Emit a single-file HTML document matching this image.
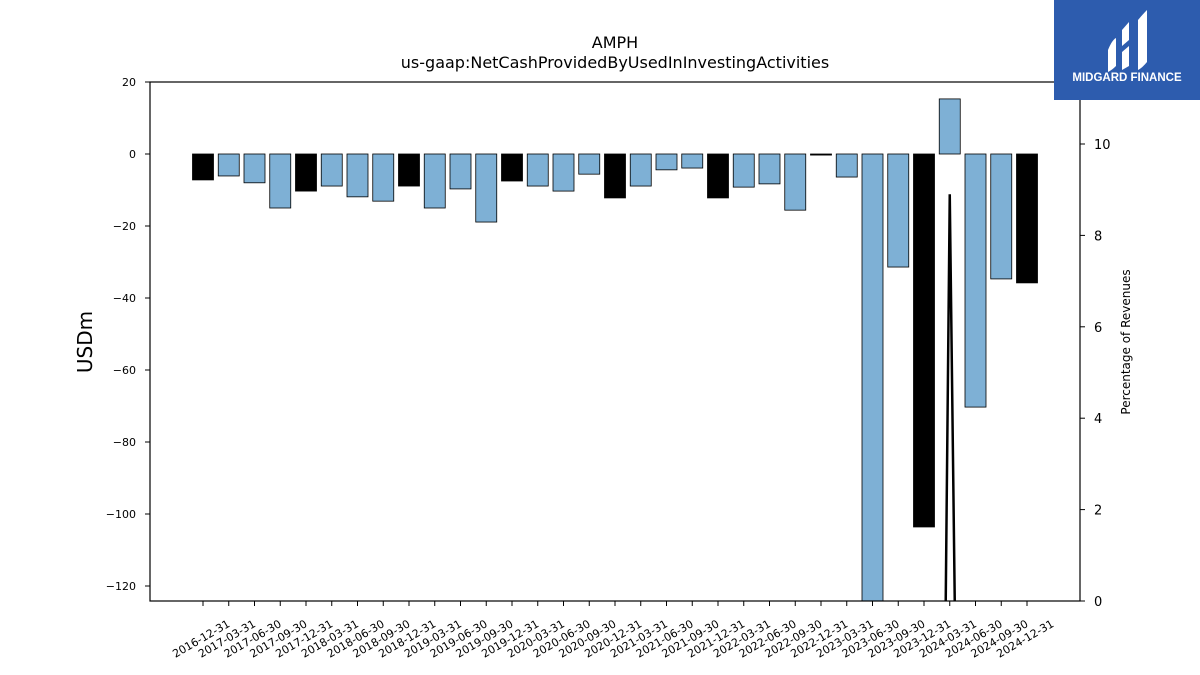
<!DOCTYPE html>
<html style="overflow:hidden"><head><meta charset="utf-8"><style>
html,body{margin:0;background:#fff;width:1200px;height:675px;overflow:hidden;font-family:"Liberation Sans","DejaVu Sans",sans-serif}
svg{display:block}
</style></head><body>
<svg id="chart" width="1200" height="675" xmlns="http://www.w3.org/2000/svg" style="position:absolute;left:0;top:0">
<text x="615" y="48" text-anchor="middle" font-size="16" font-family="DejaVu Sans, sans-serif">AMPH</text>
<text x="615" y="68" text-anchor="middle" font-size="16" font-family="DejaVu Sans, sans-serif">us-gaap:NetCashProvidedByUsedInInvestingActivities</text>
<text transform="translate(92,342) rotate(-90)" text-anchor="middle" font-size="20" font-family="DejaVu Sans, sans-serif">USDm</text>
<text transform="translate(1130,342) rotate(-90)" text-anchor="middle" font-size="12" font-family="DejaVu Sans, sans-serif">Percentage of Revenues</text>
<defs><clipPath id="plotclip"><rect x="150" y="82" width="930" height="519"/></clipPath></defs>
<g id="bars" clip-path="url(#plotclip)"></g>
<g id="line" clip-path="url(#plotclip)"></g>
<g id="axes"></g>
<rect x="150" y="82" width="930" height="519" fill="none" stroke="#000" stroke-width="1.2"/>
<g>
<rect x="1054" y="0" width="146" height="100" fill="#2d5cae"/>
<path d="M1108 50 Q1112 40 1116 38 L1116 66 Q1112 70 1108 72 Z" fill="#fff"/>
<path d="M1122 30 L1129 22 L1129 40 L1122 46 Z M1122 52 L1129 46 L1129 66 L1122 70 Z" fill="#fff"/>
<path d="M1138 20 Q1143 14 1147 10 L1147 62 Q1142 68 1138 70 Z" fill="#fff"/>
<text x="1127" y="81" text-anchor="middle" font-size="11.5" font-weight="bold" fill="#fff">MIDGARD FINANCE</text>
</g>
</svg>
<script>
const categories=["2016-12-31","2017-03-31","2017-06-30","2017-09-30","2017-12-31","2018-03-31","2018-06-30","2018-09-30","2018-12-31","2019-03-31","2019-06-30","2019-09-30","2019-12-31","2020-03-31","2020-06-30","2020-09-30","2020-12-31","2021-03-31","2021-06-30","2021-09-30","2021-12-31","2022-03-31","2022-06-30","2022-09-30","2022-12-31","2023-03-31","2023-06-30","2023-09-30","2023-12-31","2024-03-31","2024-06-30","2024-09-30","2024-12-31"];
const values=[-7.2,-6.1,-8,-15,-10.3,-8.9,-11.9,-13.1,-8.9,-15,-9.7,-18.9,-7.5,-8.9,-10.3,-5.6,-12.2,-8.9,-4.4,-3.9,-12.2,-9.2,-8.3,-15.6,-0.3,-6.4,-130,-31.4,-103.6,15.3,-70.3,-34.7,-35.8];
const pctValues=[null,null,null,null,null,null,null,null,null,null,null,null,null,null,null,null,null,null,null,null,null,null,null,null,null,null,null,null,-48,8.9,-37,null,null];
const yTicks=[20,0,-20,-40,-60,-80,-100,-120];
const y2Ticks=[0,2,4,6,8,10];
const NS="http://www.w3.org/2000/svg";
const y=v=>154-v*3.6;
const y2=v=>601-v*45.7;
const x=i=>203+i*25.75;
function mk(tag,attrs,parent){const e=document.createElementNS(NS,tag);for(const k in attrs)e.setAttribute(k,attrs[k]);parent.appendChild(e);return e;}
const bars=document.getElementById('bars'),axes=document.getElementById('axes'),line=document.getElementById('line');
values.forEach((v,i)=>{
 const top=Math.min(y(v),y(0)),h=Math.abs(y(v)-y(0));
 const r=mk('rect',{x:x(i)-10.5,y:top,width:21,height:Math.max(h,0.8),fill:(i%4===0)?'#000':'#7eb0d5',stroke:'#000','stroke-width':0.8},bars);
 
 
 mk('line',{x1:x(i),x2:x(i),y1:601,y2:606,stroke:'#000'},axes);
 const lb=mk('text',{transform:`translate(${x(i)},${642}) rotate(-30)`,'text-anchor':'middle','font-size':11,'font-family':'DejaVu Sans, sans-serif'},axes);
 lb.textContent=categories[i];
 
 
});
yTicks.forEach(v=>{
 mk('line',{x1:145,x2:150,y1:y(v),y2:y(v),stroke:'#000'},axes);
 const t=mk('text',{x:136,y:y(v)+4,'text-anchor':'end','font-size':11,'font-family':'DejaVu Sans, sans-serif'},axes);
 t.textContent=v<0?'\u2212'+(-v):String(v);
 
 
});
y2Ticks.forEach(v=>{
 mk('line',{x1:1080,x2:1085,y1:y2(v),y2:y2(v),stroke:'#000'},axes);
 const t=mk('text',{x:1094,y:y2(v)+5,'font-size':13,'font-family':'DejaVu Sans, sans-serif'},axes);
 t.textContent=String(v);
 
 
});
let d='';pctValues.forEach((v,i)=>{if(v===null)return;d+=(d?'L':'M')+x(i)+' '+y2(v)+' ';});
const p=mk('path',{d:d,fill:'none',stroke:'#000','stroke-width':2.5},line);


</script>
</body></html>
